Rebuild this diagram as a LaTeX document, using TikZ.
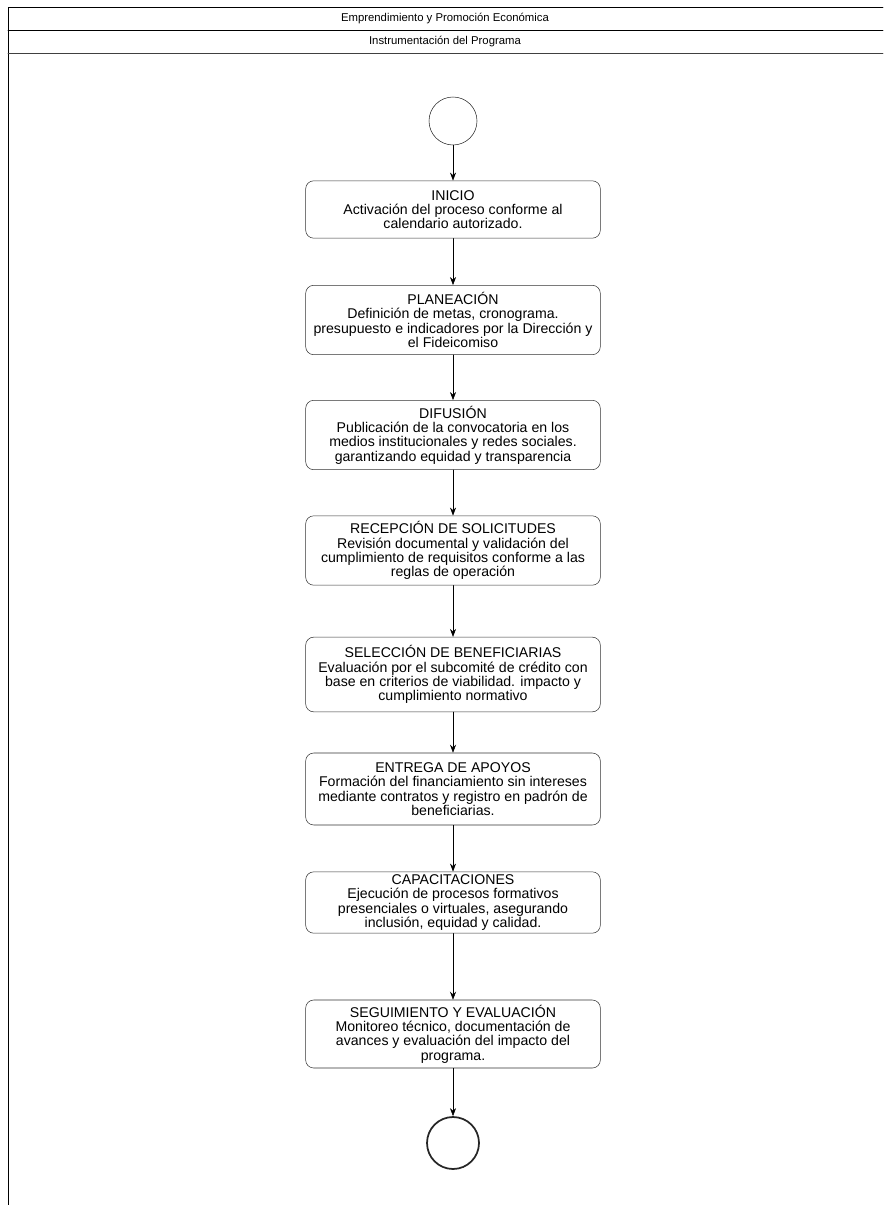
\documentclass[tikz,border=0pt]{standalone}
\usepackage{fontspec}
\setmainfont{Liberation Sans}
\usetikzlibrary{arrows.meta}
\begin{document}
\begin{tikzpicture}[x=0.75pt,y=-0.75pt,line join=round,line cap=round,>={Stealth[length=6pt,width=4.5pt]},
  paso/.style={draw=black!80,rounded corners=6pt,minimum width=221pt,align=center,inner sep=1pt,
    font=\fontsize{10.6}{10.7}\selectfont},
  evento/.style={draw=black!85,circle,minimum size=36pt,inner sep=0pt},
  fin/.style={evento,line width=1.3pt,minimum size=39pt},
  encabezado/.style={font=\fontsize{8.5}{10}\selectfont}]
\def \xizq{8};
\def \xder{883};
\def \xc{453};
\useasboundingbox (0,0) rectangle (883,1205);
% marco y encabezados
\draw[line width=0.6pt] (\xizq,1205) -- (\xizq,7) -- (\xder,7);
\draw[line width=0.6pt] (\xizq,30) -- (\xder,30);
\draw[line width=0.6pt,black!75] (\xizq,53) -- (\xder,53);
\node[encabezado] (titulo) at (445,18.5) {Emprendimiento y Promoción Económica};
\node[encabezado] (subtitulo) at (445,41.5) {Instrumentación del Programa};
% flujo
\node[evento] (ini) at (\xc,121) {};
\node[paso,minimum height=43pt] (inicio) at (\xc,209.5) {INICIO\\Activación del proceso conforme al\\calendario autorizado.};
\node[paso,minimum height=52pt] (planea) at (\xc,320) {PLANEACIÓN\\Definición de metas, cronograma.\\presupuesto e indicadores por la Dirección y\\el Fideicomiso};
\node[paso,minimum height=52pt] (difusion) at (\xc,435) {DIFUSIÓN\\Publicación de la convocatoria en los\\medios institucionales y redes sociales.\\garantizando equidad y transparencia};
\node[paso,minimum height=52pt] (recep) at (\xc,550.5) {RECEPCIÓN DE SOLICITUDES\\Revisión documental y validación del\\cumplimiento de requisitos conforme a las\\reglas de operación};
\node[paso,minimum height=56pt] (selec) at (\xc,674.5) {SELECCIÓN DE BENEFICIARIAS\\Evaluación por el subcomité de crédito con\\base en criterios de viabilidad. impacto y\\cumplimiento normativo};
\node[paso,minimum height=54pt] (entrega) at (\xc,789) {ENTREGA DE APOYOS\\Formación del financiamiento sin intereses\\mediante contratos y registro en padrón de\\beneficiarias.};
\node[paso,minimum height=46pt] (capac) at (\xc,902.5) {CAPACITACIONES\\Ejecución de procesos formativos\\presenciales o virtuales, asegurando\\inclusión, equidad y calidad.};
\node[paso,minimum height=51pt] (segui) at (\xc,1034) {SEGUIMIENTO Y EVALUACIÓN\\Monitoreo técnico, documentación de\\avances y evaluación del impacto del\\programa.};
\node[fin] (final) at (\xc,1143) {};
\foreach \a/\b in {ini/inicio,inicio/planea,planea/difusion,difusion/recep,recep/selec,selec/entrega,entrega/capac,capac/segui,segui/final}
  {\draw[->] (\a) -- (\b);}
\end{tikzpicture}
\end{document}
